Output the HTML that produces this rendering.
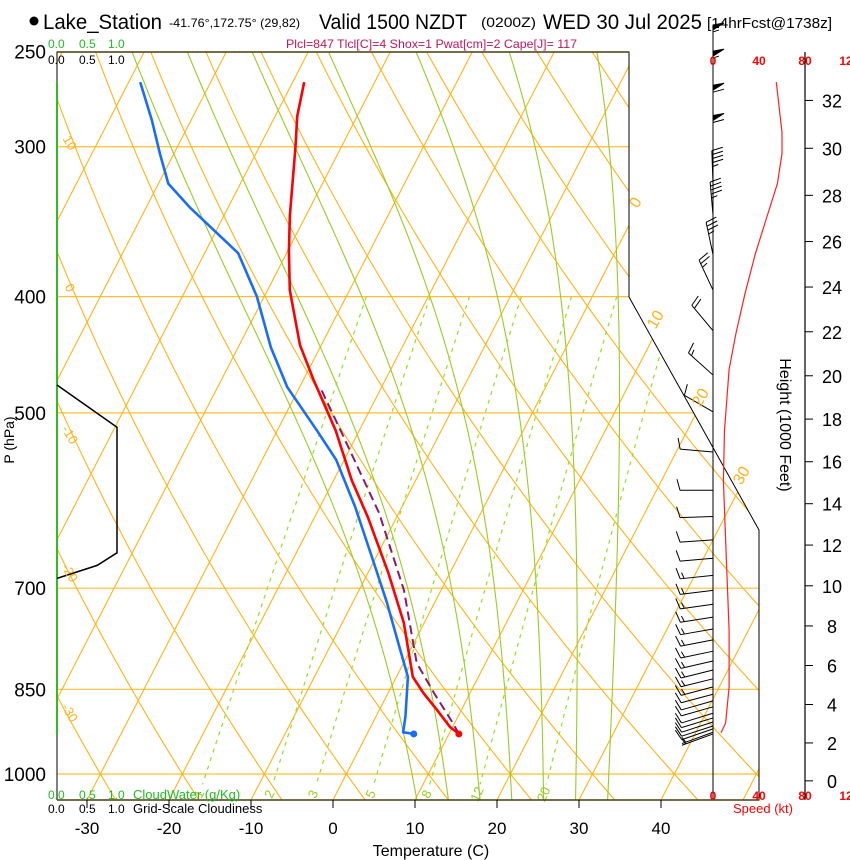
<!DOCTYPE html>
<html><head><meta charset="utf-8"><style>
html,body{margin:0;padding:0;background:#fff;}
svg{display:block;font-family:"Liberation Sans Narrow","Liberation Sans",sans-serif;}
</style></head><body>
<svg id="chart" width="850" height="860" viewBox="0 0 850 860" xmlns="http://www.w3.org/2000/svg">
<defs><clipPath id="plotclip"><polygon points="57,52 629,52 629,297 759,530 759,800 57,800"/></clipPath></defs>
<g id="title">
<circle cx="34" cy="21" r="4.5" fill="#000"/>
<text x="43" y="29" font-size="21" textLength="119" lengthAdjust="spacingAndGlyphs">Lake_Station</text>
<text x="169" y="27" font-size="12" textLength="131" lengthAdjust="spacingAndGlyphs">-41.76°,172.75° (29,82)</text>
<text x="319" y="29" font-size="21" textLength="148" lengthAdjust="spacingAndGlyphs">Valid 1500 NZDT</text>
<text x="481" y="27" font-size="14" textLength="55" lengthAdjust="spacingAndGlyphs">(0200Z)</text>
<text x="543" y="29" font-size="21" textLength="159" lengthAdjust="spacingAndGlyphs">WED 30 Jul 2025</text>
<text x="707" y="28" font-size="15" textLength="125" lengthAdjust="spacingAndGlyphs">[14hrFcst@1738z]</text>
</g>
<text x="286" y="48" font-size="12" fill="#c0185a" textLength="291" lengthAdjust="spacingAndGlyphs">Plcl=847 Tlcl[C]=4 Shox=1 Pwat[cm]=2 Cape[J]= 117</text>
<g id="bg" clip-path="url(#plotclip)"></g>
<g id="fg"></g>
</svg>
<script>
// ---- data ----
const tempP=[265,283,300,342,366,395,439,469,517,569,611,680,748,830,856,884,914,926];
const tempC=[-48.6,-47.3,-45.6,-42.0,-39.9,-37.3,-32.6,-28.8,-22.9,-17.8,-13.5,-7.5,-2.5,2.0,4.3,7.0,9.7,11.2];
const dewP=[265,285,304,322,337,368,400,441,476,517,547,599,667,720,773,830,896,923,926];
const dewC=[-68.6,-64.8,-61.7,-58.8,-54.7,-45.9,-40.9,-36.0,-31.5,-25.2,-21.0,-15.7,-9.9,-5.8,-2.2,1.4,3.6,4.3,5.7];
const parcelP=[479,517,606,703,808,856,907,926];
const parcelC=[-27.1,-22.3,-12.4,-4.5,1.6,5.6,9.8,11.2];
const cloudP=[474,514,654,670,687];
const cloudFrac=[0,1,1,0.67,0];
const windP=[253,266,284,301,322,342,369,395,427,465,499,539,580,610,638,661,683,703,722,740,757,773,790,805,819,833,846,858,869,879,890,898,905,912,917,923,926];
const windDir=[360,360,360,360,358,355,348,335,320,312,300,275,270,268,266,265,264,263,262,261,260,259,258,257,256,256,255,255,254,254,253,253,252,252,251,250,250];
const windSpd=[55,55,60,60,45,45,35,25,20,15,12,10,10,10,11,12,13,14,14,14,14,14,14,14,14,13,13,12,12,11,11,10,10,9,8,7,6];
const speedP=[265,292,304,322,343,368,397,429,460,517,569,638,759,846,907,924];
const speedKt=[55,60,60,56,47,37,28,20,14,10,9,11,14,14,11,7];
const pressureTicks=[250,300,400,500,700,850,1000];
const tempTicks=[-30,-20,-10,0,10,20,30,40];
const heightTicks=[0,2,4,6,8,10,12,14,16,18,20,22,24,26,28,30,32];
const mixRatios=[1,2,3,5,8,12,20];
const moistThetaW=[8,12,16,20,24,28,32];
const dryThetas=[-40,-30,-20,-10,0,10,20,30,40,50,60,70,80,90,100,110,120,130];
const isotherms=[-120,-110,-100,-90,-80,-70,-60,-50,-40,-30,-20,-10,0,10,20,30,40,50];
// ---- axes ----
const Y0=774,K=521,X0=333,PX=8.2,SK=0.515,YB=800;
function yP(p){return Y0-K*Math.log(1000/p);}
function xT(t,p){return X0+PX*t+SK*(YB-yP(p));}
function xTy(t,y){return X0+PX*t+SK*(YB-y);}
const PB=1000*Math.exp((YB-Y0)/K);
const svg=document.getElementById('chart');
const bg=document.getElementById('bg'), fg=document.getElementById('fg');
const NS='http://www.w3.org/2000/svg';
function mk(tag,attrs,parent){const e=document.createElementNS(NS,tag);for(const k in attrs)e.setAttribute(k,attrs[k]);(parent||fg).appendChild(e);return e;}
function pts(arr){return arr.map(a=>a[0].toFixed(1)+','+a[1].toFixed(1)).join(' ');}
// isobars
pressureTicks.forEach(p=>{ if(p===250)return;
 const l=mk('line',{x1:57,x2:760,y1:yP(p),y2:yP(p),stroke:'#ffbf33','stroke-width':1.2},bg);
 
 });
// isotherms
isotherms.forEach(t=>{
 const l=mk('line',{x1:xTy(t,YB),y1:YB,x2:xTy(t,52),y2:52,stroke:'#ffb31a','stroke-width':1.1},bg);
 
 });
// dry adiabats
dryThetas.forEach(th=>{const a=[];for(let p=250;p<=PB+1;p+=10){const T=(th+273.15)*Math.pow(p/1000,0.286)-273.15;a.push([xT(T,p),yP(p)]);}
 const l=mk('polyline',{points:pts(a),fill:'none',stroke:'#ffb31a','stroke-width':1.1},bg);
 
 });
// moist adiabats
function es(T){return 6.112*Math.exp(17.67*T/(T+243.5));}
function dTdp(T,p){const Tk=T+273.15;const e=es(T);const rs=0.622*e/(p-e);return (287*Tk+2.5e6*rs)/(p*(1005+2.5e6*2.5e6*rs*0.622/(287*Tk*Tk)));}
moistThetaW.forEach(tw=>{const up=[];let T=tw;for(let p=1000;p>=250;p-=2){up.push([xT(T,p),yP(p)]);T-=dTdp(T,p)*2;}
 const dn=[];T=tw;for(let p=1000;p<=PB+2;p+=2){dn.push([xT(T,p),yP(p)]);T+=dTdp(T,p)*2;}
 const a=dn.reverse().concat(up);
 const l=mk('polyline',{points:pts(a),fill:'none',stroke:'#99cc22','stroke-width':1.1},bg);
 
 });
// mixing ratio
mixRatios.forEach(w=>{const a=[];for(let p=400;p<=1025;p+=10){const e=w*p/(622+w);const L=Math.log(e/6.112);const T=243.5*L/(17.67-L);a.push([xT(T,p),yP(p)]);}
 const l=mk('polyline',{points:pts(a),fill:'none',stroke:'#99dd22','stroke-width':1.2,'stroke-dasharray':'4,5'},bg);
 
 
 const e=w*1035/(622+w);const L=Math.log(e/6.112);const T=243.5*L/(17.67-L);const x=xT(T,1035)+3,y=yP(1035)+4;
 const t=mk('text',{x:x,y:y,'font-size':13,fill:'#99cc22',transform:'rotate(-65 '+x+' '+y+')','text-anchor':'middle'});
 t.textContent=w;
 
 });
// frame
const fr=mk('polyline',{points:'57,800 57,52 629,52 629,297 759,530 759,800 57,800',fill:'none',stroke:'#000','stroke-width':1});


mk('line',{x1:57,x2:629,y1:52,y2:52,stroke:'#4a3c10','stroke-width':1.5});
mk('line',{x1:57,x2:759,y1:800,y2:800,stroke:'#4a3c10','stroke-width':1.5});
// cloud water line
const cw=mk('line',{x1:57,x2:57,y1:yP(265),y2:yP(926),stroke:'#33bb22','stroke-width':2});


// cloudiness
const cl=mk('polyline',{points:pts(cloudP.map((p,i)=>[57+cloudFrac[i]*60,yP(p)])),fill:'none',stroke:'#000','stroke-width':1.5});


// profiles
const tl=mk('polyline',{points:pts(tempP.map((p,i)=>[xT(tempC[i],p),yP(p)])),fill:'none',stroke:'#ff0000','stroke-width':2.6,'stroke-linejoin':'round'});


const pl=mk('polyline',{points:pts(parcelP.map((p,i)=>[xT(parcelC[i],p),yP(p)])),fill:'none',stroke:'#8b1a6b','stroke-width':2,'stroke-dasharray':'9,5'});


const dl=mk('polyline',{points:pts(dewP.map((p,i)=>[xT(dewC[i],p),yP(p)])),fill:'none',stroke:'#1a6ef5','stroke-width':2.6,'stroke-linejoin':'round'});


const tn=tempP.length-1, dn=dewP.length-1;
const td=mk('circle',{cx:xT(tempC[tn],tempP[tn]),cy:yP(tempP[tn]),r:3.5,fill:'#ff0000'});


const dd=mk('circle',{cx:xT(dewC[dn],dewP[dn]),cy:yP(dewP[dn]),r:3.5,fill:'#1a6ef5'});


// right axes lines
mk('line',{x1:713,x2:713,y1:52,y2:800,stroke:'#000','stroke-width':1});
mk('line',{x1:805,x2:805,y1:52,y2:800,stroke:'#000','stroke-width':1.2});
// speed profile
const sl=mk('polyline',{points:pts(speedP.map((p,i)=>[713+speedKt[i]*46/40,yP(p)])),fill:'none',stroke:'#ff2020','stroke-width':1.2});


// wind barbs
windP.forEach((p,i)=>{const bx=713,by=yP(p);const r=windDir[i]*Math.PI/180;const sx=Math.sin(r),sy=-Math.cos(r);const L=33;
 const g=mk('g',{stroke:'#000','stroke-width':1,fill:'#000'});
 
 
 mk('line',{x1:bx,y1:by,x2:bx+L*sx,y2:by+L*sy},g);
 const px=-sy,py=sx;let s=windSpd[i];let d=L;
 while(s>=48){const ax=bx+d*sx,ay=by+d*sy,cx=bx+(d-5)*sx,cy=by+(d-5)*sy;mk('polygon',{points:pts([[ax,ay],[ax+11*px+2*sx,ay+11*py+2*sy],[cx,cy]])},g);d-=7;s-=50;}
 while(s>=8){const ax=bx+d*sx,ay=by+d*sy;mk('line',{x1:ax,y1:ay,x2:ax+11*px+3*sx,y2:ay+11*py+3*sy},g);d-=4;s-=10;}
 if(s>=3){if(d===L)d-=4;const ax=bx+d*sx,ay=by+d*sy;mk('line',{x1:ax,y1:ay,x2:ax+6*px+2*sx,y2:ay+6*py+2*sy},g);}
});
// pressure labels
pressureTicks.forEach(p=>{const t=mk('text',{x:46,y:yP(p)+7,'font-size':19,'text-anchor':'end'});t.textContent=p;
 
 });
const pa=mk('text',{x:14,y:440,'font-size':14,'text-anchor':'middle',transform:'rotate(-90 14 440)'});pa.textContent='P (hPa)';


// temp ticks
tempTicks.forEach(t=>{const x=xTy(t,YB);mk('line',{x1:x,x2:x,y1:800,y2:808,stroke:'#000'});
 const tx=mk('text',{x:x,y:834,'font-size':17,'text-anchor':'middle'});tx.textContent=t;
 
 });
const xa=mk('text',{x:431,y:856,'font-size':16,'text-anchor':'middle'});xa.textContent='Temperature (C)';


// height axis
heightTicks.forEach(h=>{const m=h*1000*0.3048;const p=1013.25*Math.pow(1-2.2557e-5*m,5.256);const y=yP(p);
 mk('line',{x1:805,x2:813,y1:y,y2:y,stroke:'#000'});
 const t=mk('text',{x:832,y:y+7,'font-size':18,'text-anchor':'middle'});t.textContent=h;
 
 });
const ha=mk('text',{x:780,y:425,'font-size':16,'text-anchor':'middle',transform:'rotate(90 780 425)'});ha.textContent='Height (1000 Feet)';


// speed axis labels
[[713,'0'],[759,'40'],[805,'80'],[846,'12']].forEach(a=>{[65,800].forEach(y=>{const t=mk('text',{x:a[0],y:y,'font-size':12,fill:'#ff0000','text-anchor':'middle','font-weight':'bold'});t.textContent=a[1];
 
 });});
const sa=mk('text',{x:733,y:813,'font-size':13,fill:'#ff0000'});sa.textContent='Speed (kt)';


// cloud scales
[[48,'0.0'],[79,'0.5'],[108,'1.0']].forEach(a=>{
 const g1=mk('text',{x:a[0],y:48,'font-size':12,fill:'#22bb22'});g1.textContent=a[1];
 
 
 const b1=mk('text',{x:a[0],y:64,'font-size':12,fill:'#000'});b1.textContent=a[1];
 
 
 const g2=mk('text',{x:a[0],y:799,'font-size':12,fill:'#22bb22'});g2.textContent=a[1];
 
 
 const b2=mk('text',{x:a[0],y:813,'font-size':12,fill:'#000'});b2.textContent=a[1];
 
 });
const cwl=mk('text',{x:133,y:799,'font-size':13,fill:'#22bb22'});cwl.textContent='CloudWater (g/Kg)';


const gsl=mk('text',{x:133,y:813,'font-size':13,fill:'#000'});gsl.textContent='Grid-Scale Cloudiness';


// isotherm / dry-adiabat labels
[[640,205,'0'],[660,322,'10'],[705,400,'20'],[746,478,'30']].forEach(a=>{const t=mk('text',{x:a[0],y:a[1],'font-size':16,fill:'#ffb31a','text-anchor':'middle',transform:'rotate(-60 '+a[0]+' '+a[1]+')'});t.textContent=a[2];
 
 });
[[66,145,'10'],[66,290,'0'],[66,437,'-10'],[66,575,'-20'],[66,715,'-30']].forEach(a=>{const t=mk('text',{x:a[0],y:a[1],'font-size':13,fill:'#ffb31a','text-anchor':'middle',transform:'rotate(60 '+a[0]+' '+a[1]+')'});t.textContent=a[2];
 
 });
</script>
</body></html>
